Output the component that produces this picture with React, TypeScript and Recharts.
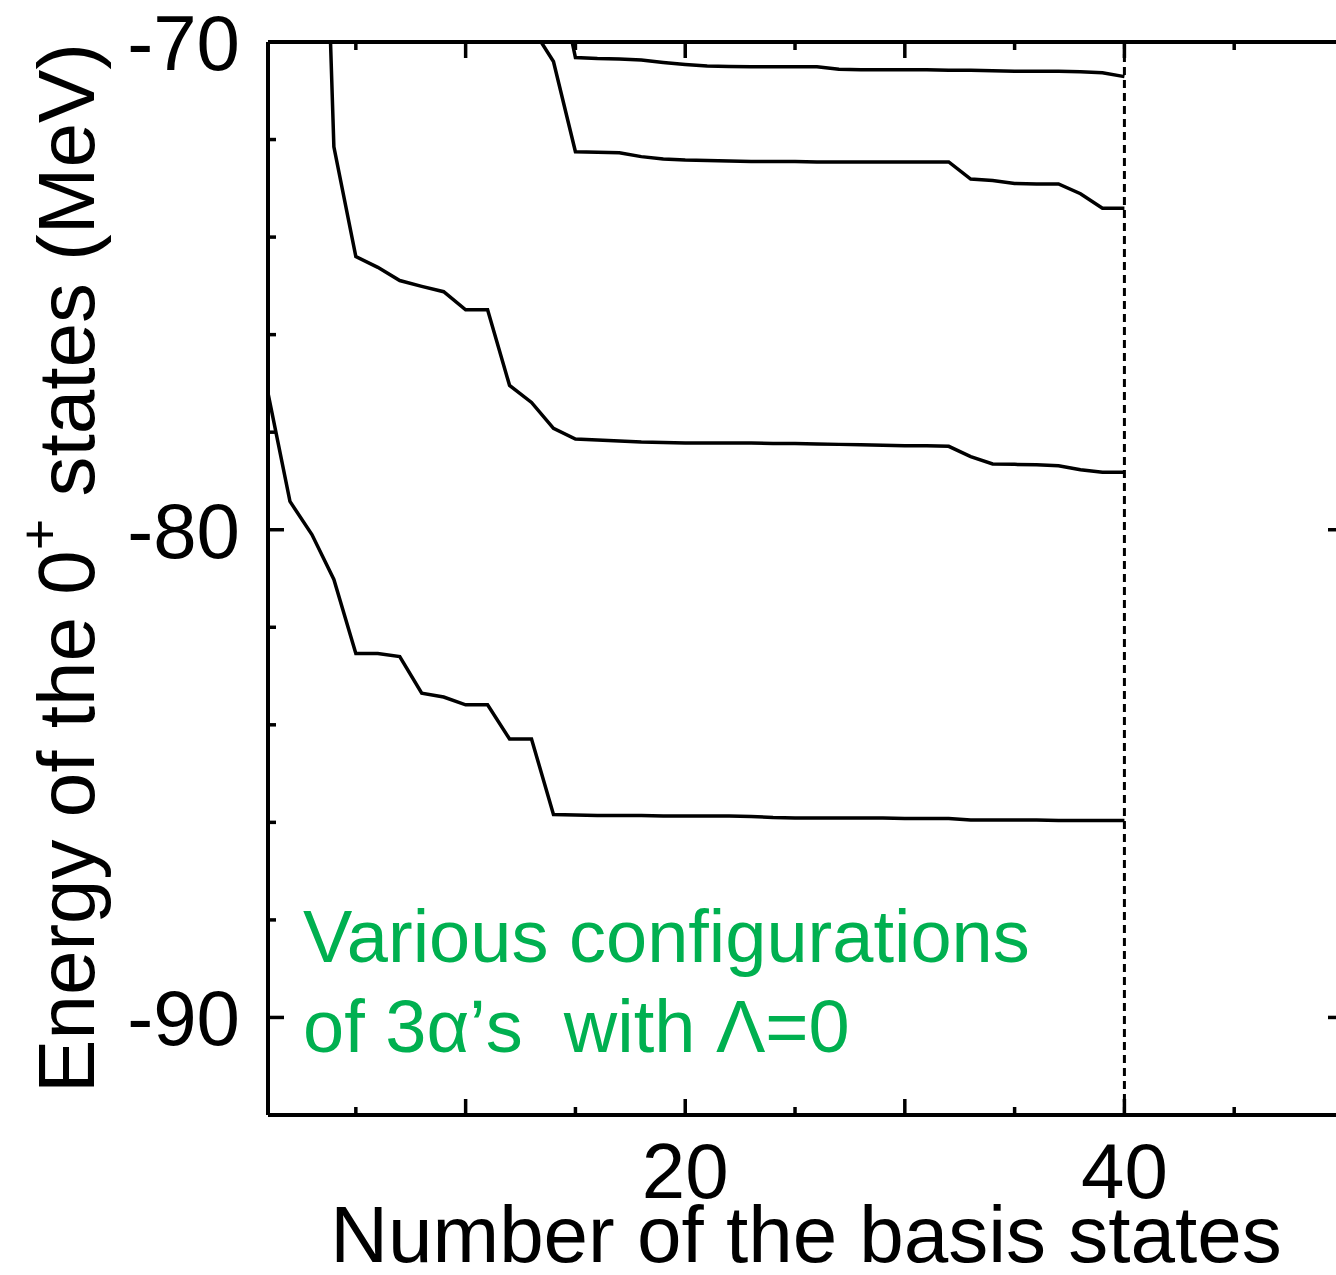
import { Line, LineChart, ReferenceLine, XAxis, YAxis } from "recharts";

const FONT = '"Liberation Sans", Arial, Helvetica, sans-serif';

// number of basis states included in the diagonalisation
const basisCount = [
    1, 2, 3, 4, 5, 6, 7, 8, 9, 10,
    11, 12, 13, 14, 15, 16, 17, 18, 19, 20,
    21, 22, 23, 24, 25, 26, 27, 28, 29, 30,
    31, 32, 33, 34, 35, 36, 37, 38, 39, 40,
];

// lowest 0+ eigenvalue (MeV)
const level1 = [
    -77.2, -79.42, -80.1, -81.02, -82.54, -82.54, -82.6, -83.35, -83.43, -83.59,
    -83.59, -84.29, -84.29, -85.84, -85.85, -85.86, -85.86, -85.86, -85.87, -85.87,
    -85.87, -85.87, -85.88, -85.9, -85.91, -85.91, -85.91, -85.91, -85.91, -85.92,
    -85.92, -85.92, -85.95, -85.95, -85.95, -85.95, -85.96, -85.96, -85.96, -85.96,
];

// second 0+ eigenvalue
const level2 = [
    null, null, -58.1, -72.15, -74.4, -74.62, -74.89, -75.01, -75.12, -75.49,
    -75.49, -77.04, -77.39, -77.92, -78.14, -78.16, -78.18, -78.2, -78.21, -78.22,
    -78.22, -78.22, -78.22, -78.23, -78.23, -78.24, -78.25, -78.26, -78.27, -78.28,
    -78.28, -78.29, -78.5, -78.65, -78.66, -78.67, -78.69, -78.77, -78.82, -78.82,
];

// third 0+ eigenvalue
const level3 = [
    null, null, null, null, null, null, null, null, null, null,
    null, null, -69.69, -70.4, -72.25, -72.26, -72.27, -72.35, -72.4, -72.42,
    -72.43, -72.44, -72.45, -72.45, -72.45, -72.46, -72.46, -72.46, -72.46, -72.46,
    -72.46, -72.46, -72.81, -72.84, -72.9, -72.91, -72.91, -73.11, -73.41, -73.41,
];

// fourth 0+ eigenvalue
const level4 = [
    null, null, null, null, null, null, null, null, null, null,
    null, null, null, -68.18, -70.32, -70.34, -70.35, -70.37, -70.42, -70.46,
    -70.49, -70.5, -70.51, -70.51, -70.51, -70.51, -70.56, -70.57, -70.57, -70.57,
    -70.57, -70.58, -70.58, -70.59, -70.6, -70.6, -70.6, -70.61, -70.63, -70.71,
];

const xTicks = [5, 10, 15, 20, 25, 30, 35, 40, 45, 50];
const xLabelTicks = [20, 40];
const yTicks = [-90, -88, -86, -84, -82, -80, -78, -76, -74, -72, -70];
const yLabelTicks = [-90, -80, -70];

const rows = basisCount.map((n, i) => ({
    n,
    e1: level1[i],
    e2: level2[i],
    e3: level3[i],
    e4: level4[i],
}));

type TickProps = { x?: number; y?: number; payload?: { value: number } };

const tickLen = (v: number) => (v % 10 === 0 ? 16 : 8);
const TICK_W = 3.5;

function BottomTick({ x = 0, y = 0, payload }: TickProps) {
    const v = payload?.value ?? 0;
    return (
        <g>
            <line x1={x} x2={x} y1={y} y2={y - tickLen(v)} stroke="#000" strokeWidth={TICK_W} />
            {xLabelTicks.includes(v) && (
                <text x={x} y={y + 83} textAnchor="middle" fontSize={78} fontFamily={FONT} fill="#000">
                    {v}
                </text>
            )}
        </g>
    );
}

function TopTick({ x = 0, y = 0, payload }: TickProps) {
    const v = payload?.value ?? 0;
    return <line x1={x} x2={x} y1={y} y2={y + tickLen(v)} stroke="#000" strokeWidth={TICK_W} />;
}

function LeftTick({ x = 0, y = 0, payload }: TickProps) {
    const v = payload?.value ?? 0;
    return (
        <g>
            <line x1={x} x2={x + tickLen(v)} y1={y} y2={y} stroke="#000" strokeWidth={TICK_W} />
            {yLabelTicks.includes(v) && (
                <text x={x - 28} y={y + 28} textAnchor="end" fontSize={78} fontFamily={FONT} fill="#000">
                    {v}
                </text>
            )}
        </g>
    );
}

function RightTick({ x = 0, y = 0, payload }: TickProps) {
    const v = payload?.value ?? 0;
    return <line x1={x} x2={x - tickLen(v)} y1={y} y2={y} stroke="#000" strokeWidth={TICK_W} />;
}

const axisLine = { stroke: "#000", strokeWidth: 4 };
const curve = { stroke: "#000", strokeWidth: 3.5, dot: false, isAnimationActive: false } as const;

export default function App() {
    return (
        <div
            style={{
                position: "fixed",
                left: 0,
                top: 0,
                width: 1336,
                height: 1275,
                overflow: "hidden",
                background: "#fff",
            }}
        >
            <LineChart width={1360} height={1275} data={rows} margin={{ top: 0, right: 0, bottom: 0, left: 0 }}>
                <XAxis
                    dataKey="n"
                    type="number"
                    domain={[1, 50]}
                    allowDataOverflow
                    ticks={xTicks}
                    interval={0}
                    tickSize={0}
                    tickMargin={0}
                    tickLine={false}
                    tick={<BottomTick />}
                    axisLine={axisLine}
                    height={160}
                />
                <XAxis
                    xAxisId="top"
                    dataKey="n"
                    orientation="top"
                    type="number"
                    domain={[1, 50]}
                    allowDataOverflow
                    ticks={xTicks}
                    interval={0}
                    tickSize={0}
                    tickMargin={0}
                    tickLine={false}
                    tick={<TopTick />}
                    axisLine={axisLine}
                    height={42}
                />
                <YAxis
                    type="number"
                    domain={[-92, -70]}
                    allowDataOverflow
                    ticks={yTicks}
                    interval={0}
                    tickSize={0}
                    tickMargin={0}
                    tickLine={false}
                    tick={<LeftTick />}
                    axisLine={axisLine}
                    width={268}
                />
                <YAxis
                    yAxisId="right"
                    orientation="right"
                    type="number"
                    domain={[-92, -70]}
                    allowDataOverflow
                    ticks={yTicks}
                    interval={0}
                    tickSize={0}
                    tickMargin={0}
                    tickLine={false}
                    tick={<RightTick />}
                    axisLine={axisLine}
                    width={16}
                />
                <ReferenceLine x={40} stroke="#000" strokeWidth={3} strokeDasharray="8 5" />
                <Line type="linear" dataKey="e1" {...curve} />
                <Line type="linear" dataKey="e2" {...curve} />
                <Line type="linear" dataKey="e3" {...curve} />
                <Line type="linear" dataKey="e4" {...curve} />
                <text
                    transform="translate(94 568) rotate(-90)"
                    textAnchor="middle"
                    fontSize={80}
                    fontFamily={FONT}
                    fill="#000"
                >
                    Energy of the 0
                    <tspan dy={-36} fontSize={54}>+</tspan>
                    <tspan dy={36}> states (MeV)</tspan>
                </text>
                <text x={806} y={1262} textAnchor="middle" fontSize={80} fontFamily={FONT} fill="#000">
                    Number of the basis states
                </text>
                <text x={303} y={962} fontSize={74} fontFamily={FONT} fill="#00b050">
                    Various configurations
                </text>
                <text x={303} y={1052} fontSize={74} fontFamily={FONT} fill="#00b050">
                    {"of 3α’s\u00a0 with Λ=0"}
                </text>
            </LineChart>
        </div>
    );
}
